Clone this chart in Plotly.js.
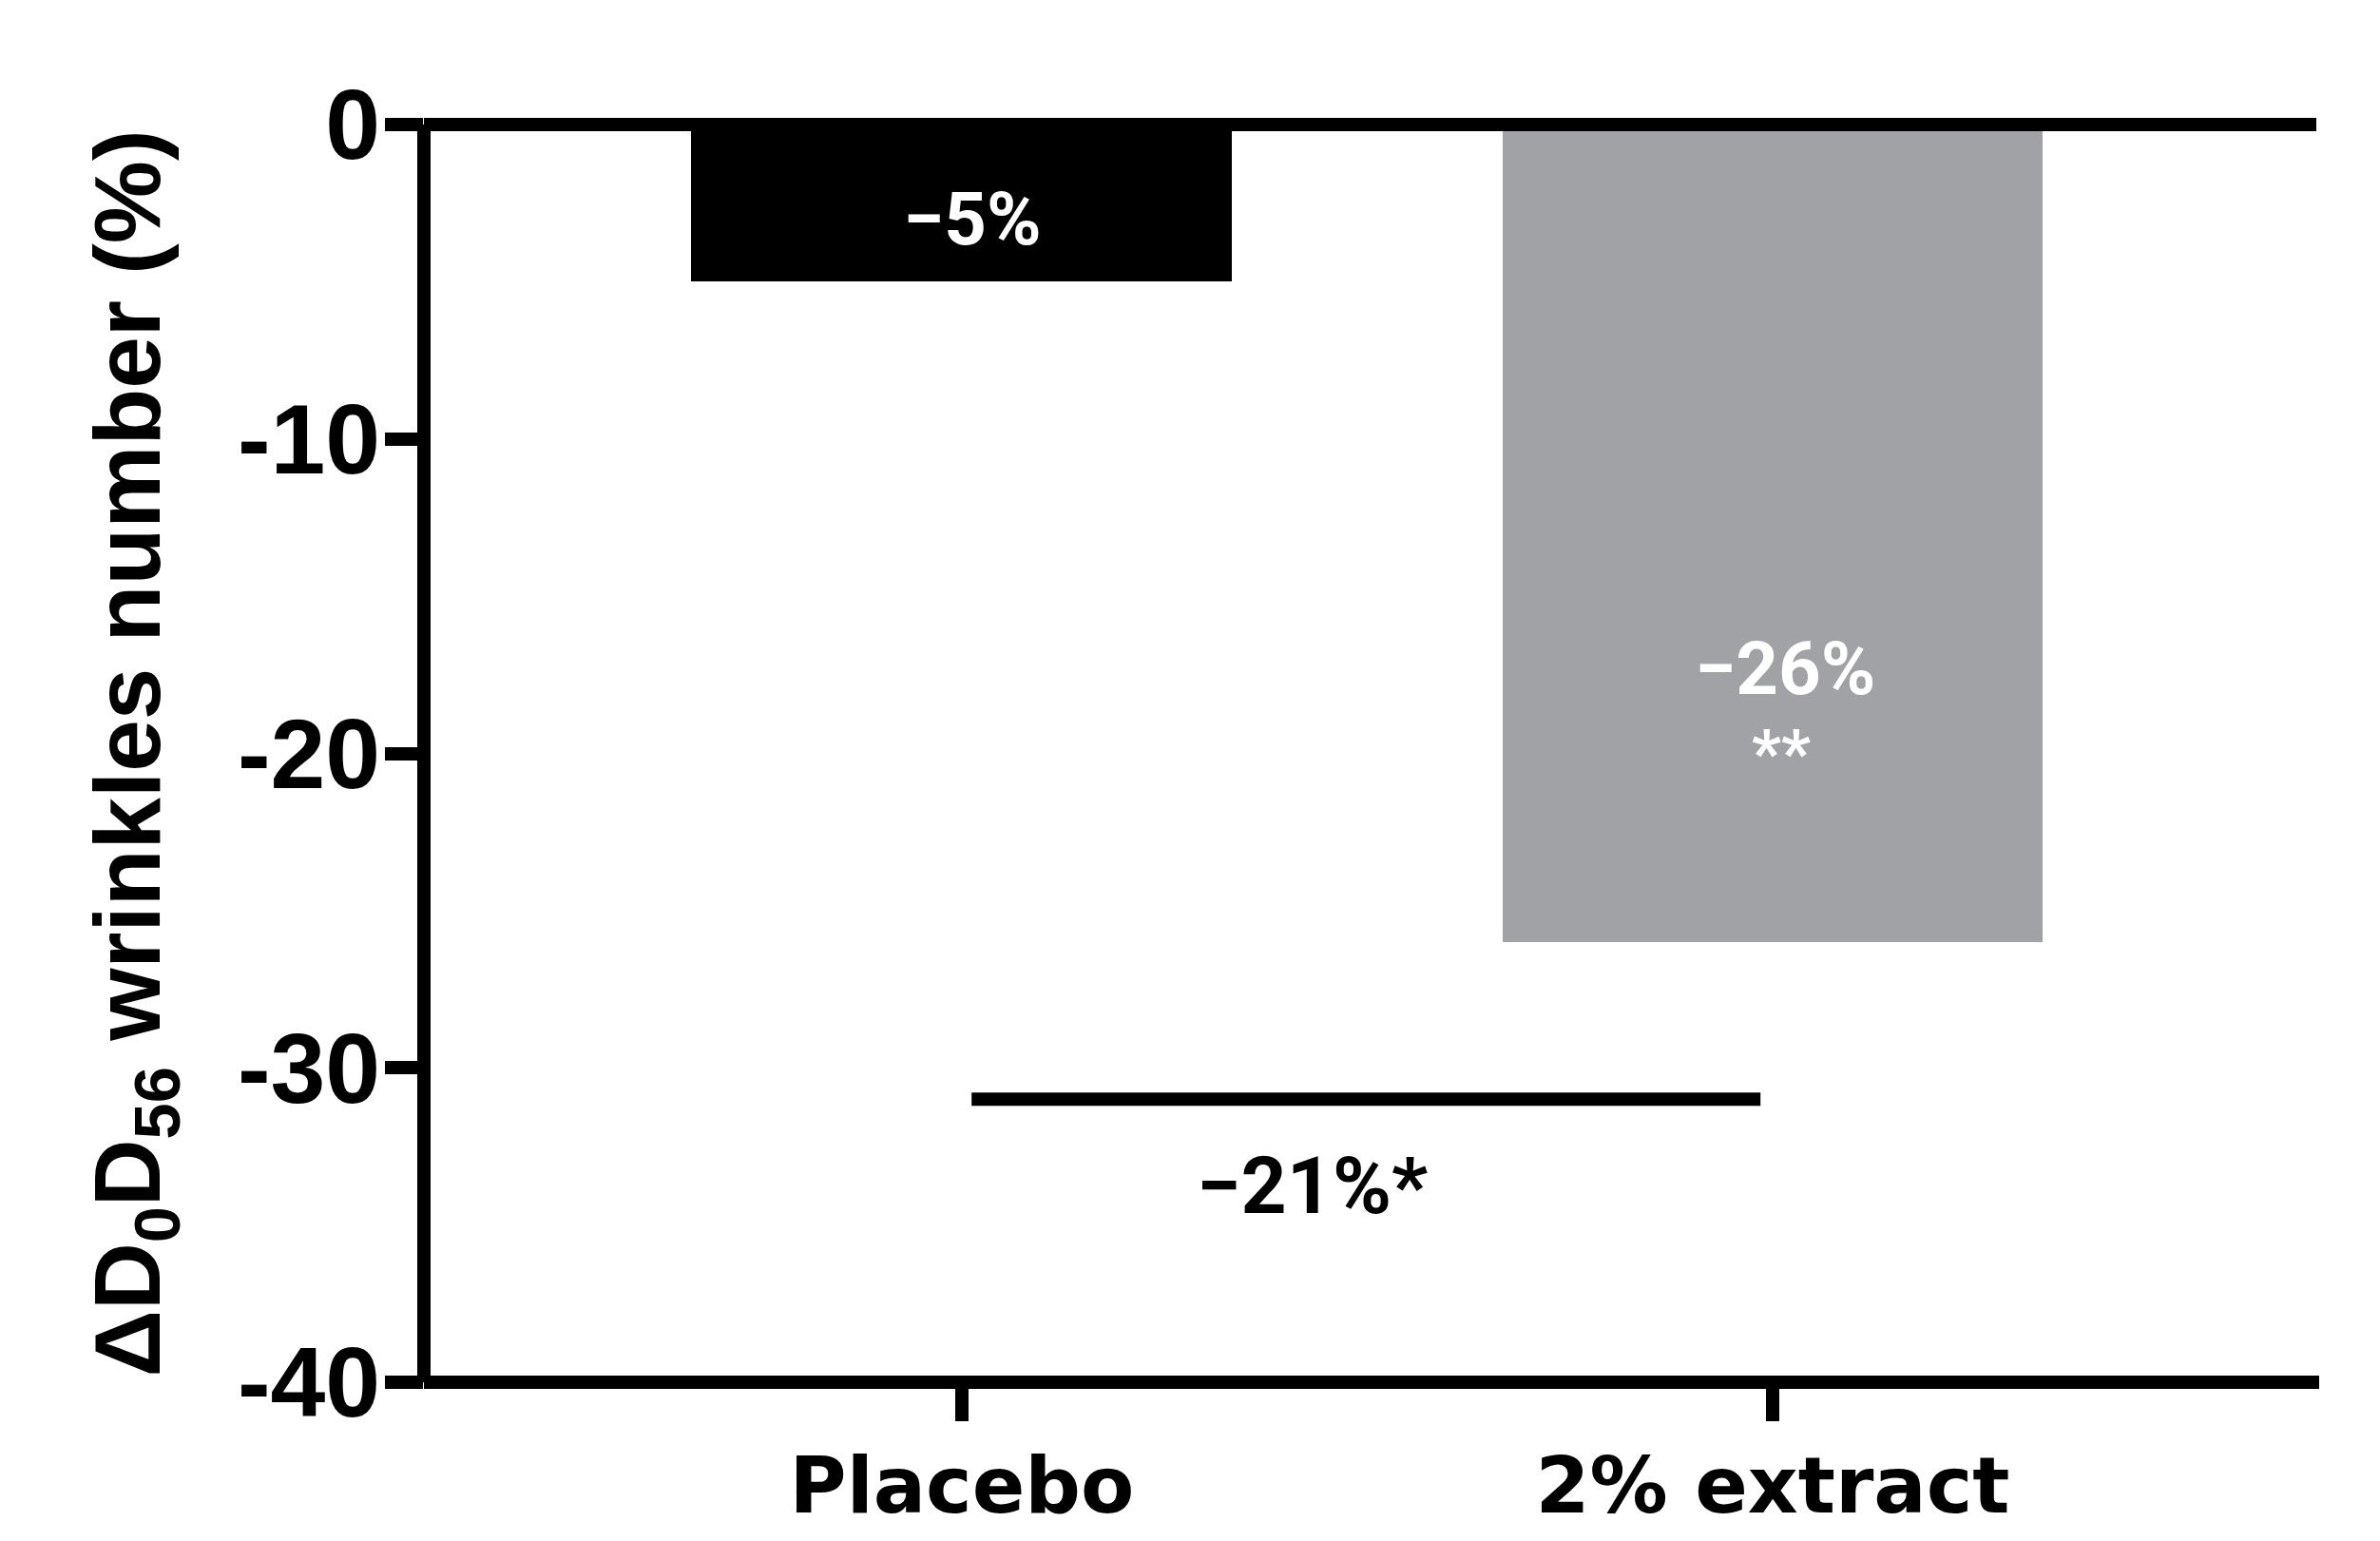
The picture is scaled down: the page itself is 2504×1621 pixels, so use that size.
<!DOCTYPE html>
<html>
<head>
<meta charset="utf-8">
<script src="https://cdn.plot.ly/plotly-3.0.1.min.js"></script>
<style>
  html, body { margin: 0; padding: 0; background: #ffffff; }
  #chart { width: 2504px; height: 1621px; }
</style>
</head>
<body>
<div id="chart"></div>
<script>
// ---- data ----
const categories = ["Placebo", "2% extract"];
const values = [-5, -26];
const barColors = ["#000000", "#a1a2a6"];
const barLabels = ["\u22125%", "\u221226%"];
const sigMarks = ["", "**"];
const diffLabel = "\u221221%*";
const diffLevel = -31;
const yTickVals = [0, -10, -20, -30, -40];
const yTickText = ["0", "-10", "-20", "-30", "-40"];
const yTitle = "\u0394D<sub>0</sub>D<sub>56</sub> wrinkles number (%)";

// ---- chart ----
const trace = {
  type: "bar",
  x: categories,
  y: values,
  width: 0.667,
  marker: { color: barColors, line: { width: 0 } },
  hoverinfo: "skip"
};

const annFont = { family: "Roboto, Liberation Sans, Arial, sans-serif", weight: "bold", color: "#000000" };

const annotations = [
  { x: 0.013, y: -3.0, text: barLabels[0], font: Object.assign({}, annFont, { size: 78, color: "#ffffff" }) },
  { x: 1.015, y: -17.3, text: barLabels[1], font: Object.assign({}, annFont, { size: 78, color: "#ffffff" }) },
  { x: 1.01, y: -20.0, text: sigMarks[1], font: Object.assign({}, annFont, { size: 68, color: "#ffffff" }) },
  { x: 0.432, y: -33.75, text: diffLabel, font: Object.assign({}, annFont, { size: 84 }) }
].map(a => Object.assign({ xref: "x", yref: "y", showarrow: false, xanchor: "center", yanchor: "middle" }, a));

const lw = 14;
const shapes = [
  // left axis line
  { type: "line", xref: "paper", yref: "paper", x0: 0, x1: 0, y0: 0, y1: 1, line: { color: "#000", width: lw } },
  // top (zero) line
  { type: "line", xref: "paper", yref: "paper", x0: 0, x1: 1, y0: 1, y1: 1, line: { color: "#000", width: lw } },
  // bottom axis line
  { type: "line", xref: "paper", yref: "paper", x0: 0, x1: 1.0015, y0: 0, y1: 0, line: { color: "#000", width: lw } },
  // comparison bracket
  { type: "line", xref: "x", yref: "y", x0: 0.012, x1: 0.985, y0: diffLevel, y1: diffLevel, line: { color: "#000", width: lw } }
].map(s => Object.assign({ layer: "above" }, s));

const layout = {
  width: 2504,
  height: 1621,
  margin: { l: 446, r: 67, t: 131, b: 167, pad: 0 },
  paper_bgcolor: "#ffffff",
  plot_bgcolor: "#ffffff",
  showlegend: false,
  xaxis: {
    type: "category",
    range: [-0.6635, 1.6706],
    showline: false,
    showgrid: false,
    zeroline: false,
    ticks: "outside",
    ticklen: 40,
    tickwidth: 14,
    tickcolor: "#000",
    ticklabelstandoff: -2,
    tickfont: { family: "DejaVu Sans, Verdana, sans-serif", weight: "bold", size: 82, color: "#000" },
    fixedrange: true
  },
  yaxis: {
    range: [-40, 0],
    showline: false,
    showgrid: false,
    zeroline: false,
    tickmode: "array",
    tickvals: yTickVals,
    ticktext: yTickText,
    ticks: "outside",
    ticklen: 40,
    tickwidth: 14,
    tickcolor: "#000",
    ticklabelstandoff: -16,
    tickfont: { family: "Liberation Sans, Arial, sans-serif", weight: "bold", size: 104, color: "#000" },
    title: {
      text: yTitle,
      standoff: 48,
      font: { family: "Liberation Sans, Arial, sans-serif", weight: "bold", size: 98, color: "#000" }
    },
    fixedrange: true
  },
  annotations: annotations,
  shapes: shapes,
  bargap: 0
};

Plotly.newPlot("chart", [trace], layout, { displayModeBar: false, staticPlot: true });
</script>
</body>
</html>
